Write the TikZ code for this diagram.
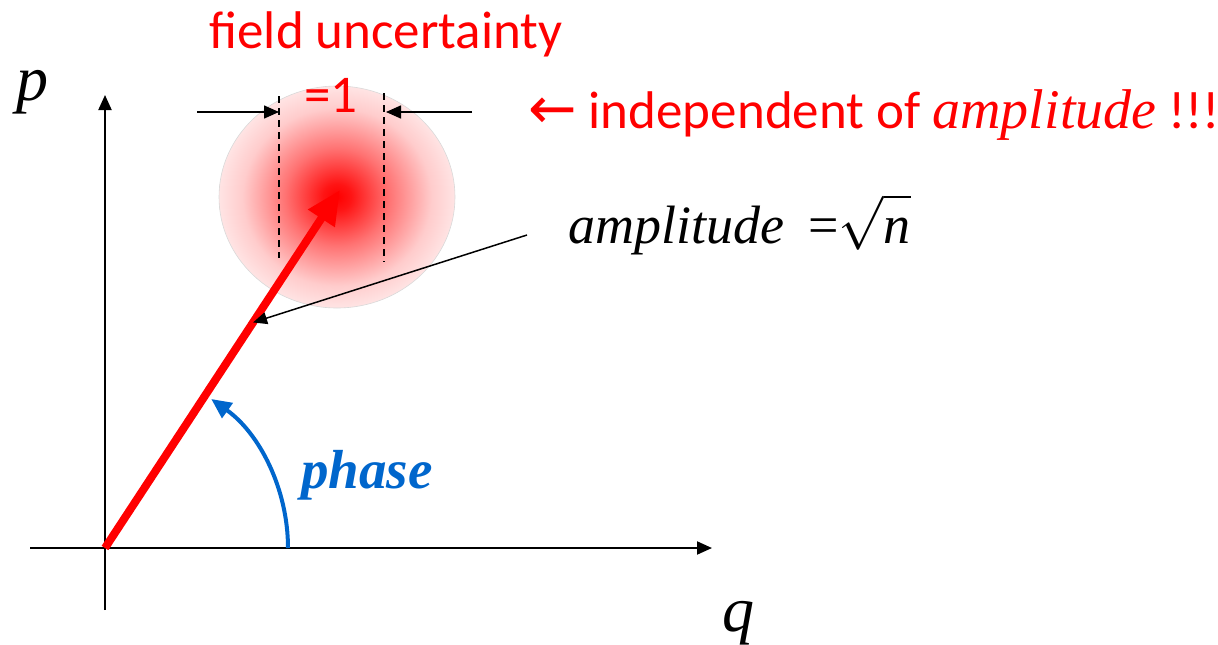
\RequirePackage{fix-cm}
\documentclass[tikz,border=0pt]{standalone}
\usepackage{fontspec}
\setmainfont{Liberation Serif}
\newfontfamily\timesfont{Liberation Serif}
\newfontfamily\calibri{Carlito}
\newfontfamily\symb{DejaVu Sans}
\usepackage{xcolor}
\usepackage{tikz}
\usetikzlibrary{arrows.meta,positioning,shapes.geometric}

\definecolor{phaseblue}{RGB}{0,102,204}
\pgfdeclareradialshading{blob}{\pgfpoint{0bp}{0bp}}{%
  color(0bp)=(red); color(3bp)=(red!92); color(11bp)=(red!55);
  color(20bp)=(red!20); color(28bp)=(red!5); color(35bp)=(white); color(50bp)=(white)}

\begin{document}
\begin{tikzpicture}[
    x=1pt, y=-1pt,
    axis/.style={line width=2pt, -{Triangle[length=15pt,width=13pt]}},
    widtharrow/.style={line width=1.5pt, -{Triangle[length=15pt,width=13pt]}},
    guide/.style={line width=1.5pt, dash pattern=on 7pt off 5pt},
    vector/.style={line width=8pt, red, -{Triangle[length=34pt,width=30pt]}},
    pointer/.style={line width=1.5pt, -{Triangle[length=14pt,width=12pt]}},
    phasearc/.style={line width=4pt, phaseblue, -{Triangle[length=20pt,width=18pt]}},
    redtxt/.style={text=red, inner sep=0pt, font=\calibri\fontsize{53}{56}\selectfont},
    mathtxt/.style={inner sep=0pt, font=\timesfont\fontsize{64}{68}\selectfont\itshape},
]
\useasboundingbox (0,0) rectangle (1218,645);

% ---------- axes ----------
\coordinate (O) at (105,548);
\coordinate (qstart) at (30,548);
\coordinate (qend) at (712,548);
\coordinate (pstart) at (105,610);
\coordinate (pend) at (105,95);
\draw[axis] (qstart) -- (qend);
\draw[axis] (pstart) -- (pend);
\node[mathtxt, anchor=base west] (plab) at (16,100) {p};
\node[mathtxt, anchor=base west] (qlab) at (722,631) {q};

% ---------- uncertainty blob ----------
\node[ellipse, minimum width=236pt, minimum height=222pt, draw=gray!30,
      line width=0.6pt, shade, shading=blob] (blob) at (337,197) {};

% ---------- width markers ----------
\coordinate (gltop) at (279,96);
\coordinate (glbot) at (279,258);
\coordinate (grtop) at (384,93);
\coordinate (grbot) at (384,262);
\draw[guide] (gltop) -- (glbot);
\draw[guide] (grtop) -- (grbot);
\coordinate (wl) at (197,112);
\coordinate (wr) at (472,112);
\draw[widtharrow] (wl) -- (279,112);
\draw[widtharrow] (wr) -- (386,112);

\node[redtxt, anchor=base] (title) at (386,48) {field uncertainty};
\node[redtxt, anchor=base] (one) at (331,112) {=1};
\node[redtxt, anchor=base west] (indep) at (528,128)
    {{\symb\fontsize{58}{60}\selectfont ←} independent of {\timesfont\itshape\fontsize{56}{58}\selectfont amplitude} !!!};

% ---------- amplitude vector ----------
\coordinate (tip) at (340,190);
\draw[vector] (O) -- (tip);
\path (O) -- (tip) coordinate[pos=0.63] (onvec);
\node[anchor=base west, inner sep=0pt, font=\timesfont\fontsize{54}{58}\selectfont] (amplab) at (568,243)
    {\itshape amplitude\hspace{24pt}\upshape=$\sqrt{\vphantom{d}\mbox{\itshape n}}$};
\coordinate (amptail) at (527,235);
\draw[pointer] (amptail) -- (onvec);

% ---------- phase ----------
\coordinate (arcstart) at (288,548);
\draw[phasearc] (arcstart) arc[start angle=0, end angle=-54.5, radius=183];
\node[anchor=base west, inner sep=0pt, text=phaseblue,
      font=\timesfont\fontsize{55}{58}\selectfont\bfseries\itshape] (phaselab) at (301,488) {phase};

\end{tikzpicture}
\end{document}
